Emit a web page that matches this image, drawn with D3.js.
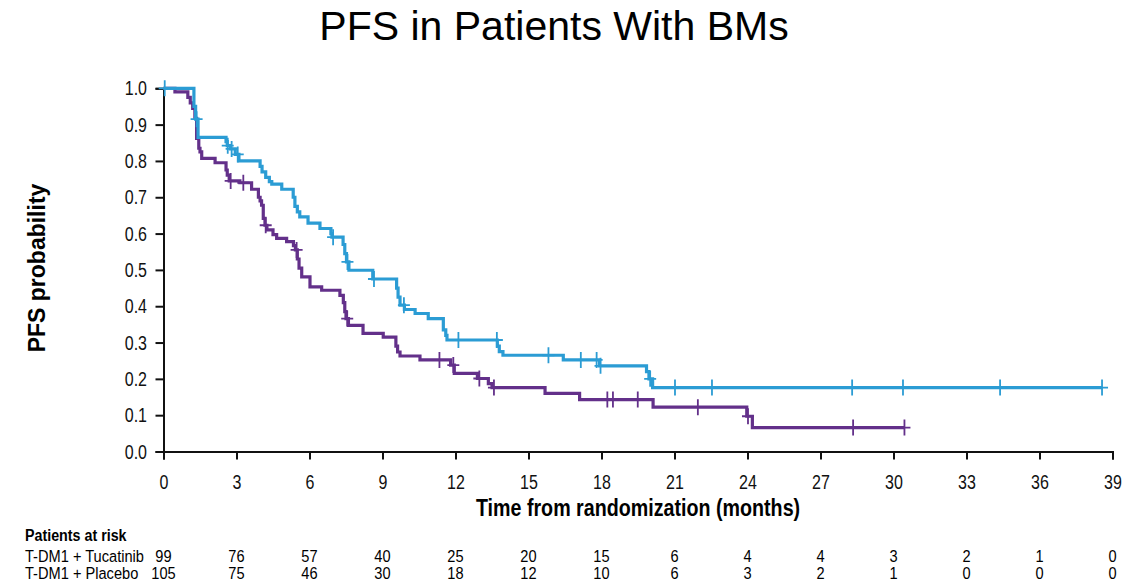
<!DOCTYPE html>
<html>
<head>
<meta charset="utf-8">
<script src="https://cdn.jsdelivr.net/npm/d3@7/dist/d3.min.js"></script>
<style>
  html, body { margin: 0; padding: 0; background: #fff; }
  svg { display: block; }
  .sans { font-family: "Liberation Sans", Arial, Helvetica, sans-serif; }
</style>
</head>
<body>
<svg id="chart" width="1145" height="582"></svg>
<script>
// Kaplan–Meier step points: event time (months) and survival after the event
const tucTimes = [1.25,1.32,1.42,2.57,2.62,2.75,2.95,3.1,3.97,4.05,4.2,4.35,4.45,4.86,5.33,5.4,5.5,5.6,5.94,6.43,6.88,6.92,7.38,7.45,7.52,7.62,8.6,9.58,9.64,9.72,9.9,10.34,10.88,11.5,11.6,11.65,13.72,13.8,13.95,16.43,17.92,19.85,19.95,20.1];
const tucSurv  = [0.95,0.915,0.865,0.853,0.842,0.833,0.818,0.80,0.785,0.77,0.755,0.743,0.736,0.722,0.70,0.675,0.66,0.646,0.629,0.614,0.60,0.59,0.57,0.545,0.522,0.499,0.475,0.45,0.425,0.403,0.391,0.38,0.366,0.335,0.32,0.307,0.29,0.275,0.265,0.252,0.236,0.22,0.20,0.176];
const tucCensor = [0.05,1.36,2.64,2.8,3.05,6.97,7.56,8.65,9.88,12.12,13.7,15.82,17.15,17.8,17.96,20.0,21.02,22.54,28.3,30.39,34.38,38.57];

const pboTimes = [0.47,1.0,1.1,1.2,1.29,1.36,1.45,1.5,1.57,2.12,2.57,2.62,2.7,3.14,3.62,3.9,3.97,4.03,4.1,4.17,4.25,4.5,4.65,5.06,5.34,5.42,5.5,5.57,5.68,6.02,6.5,7.25,7.39,7.45,7.5,7.6,8.2,9.03,9.55,9.62,9.72,10.54,11.8,11.95,12.9,13.35,13.5,15.68,17.1,20.12,23.97,24.2];
const pboSurv  = [0.99,0.975,0.96,0.945,0.917,0.862,0.835,0.825,0.807,0.795,0.775,0.761,0.745,0.74,0.722,0.70,0.69,0.678,0.642,0.623,0.61,0.597,0.587,0.578,0.567,0.555,0.53,0.505,0.481,0.453,0.444,0.43,0.41,0.385,0.366,0.347,0.325,0.315,0.29,0.274,0.263,0.252,0.238,0.215,0.201,0.187,0.176,0.16,0.143,0.122,0.097,0.066];
const pboCensor = [2.76,3.28,4.2,5.47,7.55,11.34,11.91,12.98,13.58,18.24,18.47,19.49,21.96,24.02,28.34,30.45];

// Axis ticks and numbers at risk
const xTicks = [0,3,6,9,12,15,18,21,24,27,30,33,36,39];
const yTicks = [0,0.1,0.2,0.3,0.4,0.5,0.6,0.7,0.8,0.9,1.0];
const riskTuc = [99,76,57,40,25,20,15,6,4,4,3,2,1,0];
const riskPbo = [105,75,46,30,18,12,10,6,3,2,1,0,0,0];
const armNames = ["T-DM1 + Tucatinib","T-DM1 + Placebo"];

const colTuc = "#2b9cd4";
const colPbo = "#63308a";
const NARROW = 0.8;   // horizontal squeeze for the condensed lettering

const svg = d3.select("#chart");
const x = d3.scaleLinear().domain([0, 39]).range([163.5, 1112.5]);
const y = d3.scaleLinear().domain([0, 1]).range([451.5, 88.3]);

// Title
svg.append("text").attr("class", "sans").attr("x", 554).attr("y", 40).attr("text-anchor", "middle")
  .style("font-size", "41px").attr("fill", "#000").text("PFS in Patients With BMs");

// Axes
const xAxis = svg.append("g").attr("transform", `translate(0,${y(0)})`)
  .call(d3.axisBottom(x).tickValues(xTicks).tickSize(8).tickPadding(15).tickFormat(d3.format("d")));
const yAxis = svg.append("g").attr("transform", `translate(${x(0)},0)`)
  .call(d3.axisLeft(y).tickValues(yTicks).tickSize(8).tickPadding(8).tickFormat(d3.format(".1f")));
[xAxis, yAxis].forEach(g => {
  g.attr("font-family", null).attr("font-size", null);
  g.select(".domain").attr("stroke", "#111").attr("stroke-width", 2);
  g.selectAll(".tick line").attr("stroke", "#111").attr("stroke-width", 2);
  g.selectAll(".tick text").attr("class", "sans").attr("fill", "#111").style("font-size", "20px")
    .attr("transform", `scale(${NARROW},1)`);
});
yAxis.selectAll(".tick text").attr("x", -16.5 / NARROW).attr("dy", "0.33em");

// Axis titles
svg.append("text").attr("class", "sans")
  .attr("transform", `translate(638,516) scale(${NARROW + 0.02},1)`).attr("text-anchor", "middle")
  .style("font-size", "24px").style("font-weight", "bold").attr("fill", "#000")
  .text("Time from randomization (months)");
svg.append("text").attr("class", "sans").attr("transform", "translate(45,268) rotate(-90)").attr("text-anchor", "middle")
  .style("font-size", "23px").style("font-weight", "bold").attr("fill", "#000").text("PFS probability");

// Build a KM curve and its censor marks
function drawArm(times, surv, censor, color) {
  const pts = [[0, 1]];
  times.forEach((t, i) => pts.push([t, surv[i]]));
  const last = d3.max(censor);
  pts.push([last, surv[surv.length - 1]]);
  const survAt = t => {
    let s = 1;
    times.forEach((tt, i) => { if (tt <= t) s = surv[i]; });
    return s;
  };
  const line = d3.line().x(d => x(d[0])).y(d => y(d[1])).curve(d3.curveStepAfter);
  const g = svg.append("g");
  g.append("path").datum(pts).attr("d", line).attr("fill", "none")
    .attr("stroke", color).attr("stroke-width", 3.2).attr("stroke-linejoin", "miter");
  g.selectAll("path.cens").data(censor).enter().append("path").attr("class", "cens")
    .attr("d", t => {
      const cx = x(t), cy = y(survAt(t));
      return `M${cx - 6},${cy}H${cx + 6}M${cx},${cy - 8}V${cy + 8}`;
    })
    .attr("stroke", color).attr("stroke-width", 1.8).attr("fill", "none");
}
drawArm(pboTimes, pboSurv, pboCensor, colPbo);
drawArm(tucTimes, tucSurv, tucCensor, colTuc);

// Patients at risk table
const RISK_SQUEEZE = 0.86;
const risk = svg.append("g").attr("class", "sans").attr("fill", "#000");
risk.append("text").attr("transform", `translate(25,541) scale(${RISK_SQUEEZE - 0.02},1)`)
  .style("font-size", "17px").style("font-weight", "bold").text("Patients at risk");
[riskTuc, riskPbo].forEach((row, r) => {
  const yy = 562 + r * 17;
  risk.append("text").attr("transform", `translate(25,${yy}) scale(${RISK_SQUEEZE},1)`)
    .style("font-size", "17px").text(armNames[r]);
  risk.selectAll(null).data(row).enter().append("text")
    .attr("transform", (d, i) => `translate(${x(xTicks[i])},${yy}) scale(${RISK_SQUEEZE},1)`)
    .attr("text-anchor", "middle").style("font-size", "17px").text(d => d);
});
</script>
</body>
</html>
